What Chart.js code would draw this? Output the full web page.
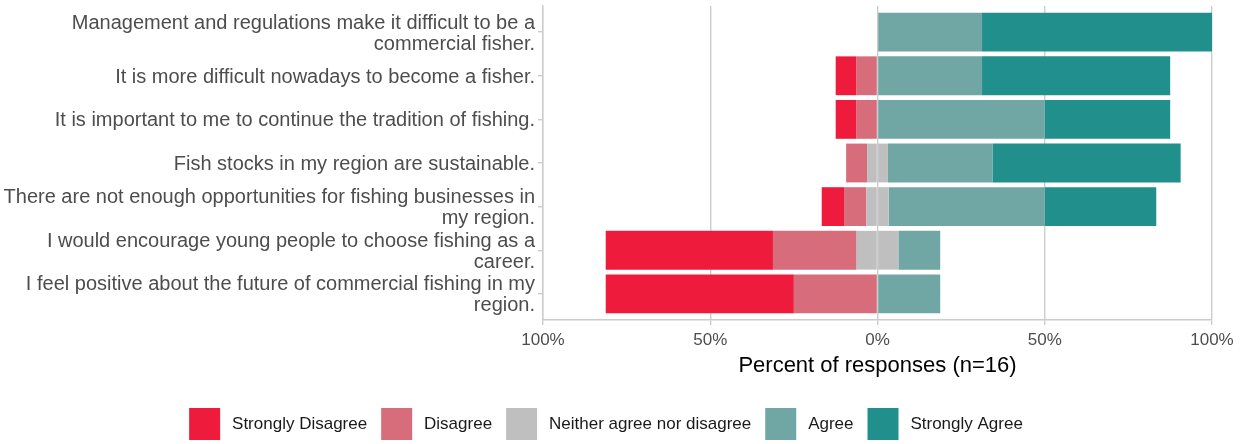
<!DOCTYPE html>
<html>
<head>
<meta charset="utf-8">
<script src="https://cdn.jsdelivr.net/npm/chart.js@4.4.1/dist/chart.umd.min.js"></script>
<style>
  html, body { margin: 0; padding: 0; background: #fff; overflow: hidden; }
  #wrap { width: 1248px; height: 450px; position: relative; }
</style>
</head>
<body>
<div id="wrap"><canvas id="c"></canvas></div>
<script>
// Survey statements (top to bottom), already split into display lines
const categories = [
  ["Management and regulations make it difficult to be a", "commercial fisher."],
  ["It is more difficult nowadays to become a fisher."],
  ["It is important to me to continue the tradition of fishing."],
  ["Fish stocks in my region are sustainable."],
  ["There are not enough opportunities for fishing businesses in", "my region."],
  ["I would encourage young people to choose fishing as a", "career."],
  ["I feel positive about the future of commercial fishing in my", "region."]
];

// Percent of responses per answer level
const stronglyDisagree = [0, 6.25, 6.25, 0, 6.67, 50, 56.25];
const disagree         = [0, 6.25, 6.25, 6.25, 6.67, 25, 25];
const neutral          = [0, 0, 0, 6.25, 6.67, 12.5, 0];
const agree            = [31.25, 31.25, 50, 31.25, 46.67, 12.5, 18.75];
const stronglyAgree    = [68.75, 56.25, 37.5, 56.25, 33.33, 0, 0];

const xTicks = [-100, -50, 0, 50, 100];

const COLORS = {
  sd: '#EE1B3C',
  d:  '#D76C7B',
  n:  '#BFBFBF',
  a:  '#70A7A4',
  sa: '#218F8B'
};

const pts = (arr, sign, factor) => arr.map((v, i) => ({ x: sign * v * factor, y: i + 1 }));

const datasets = [
  { key: 'nL', label: 'Neither agree nor disagree', data: pts(neutral, -1, 0.5), backgroundColor: COLORS.n },
  { key: 'nR', label: 'Neither agree nor disagree (right)', data: pts(neutral, 1, 0.5), backgroundColor: COLORS.n },
  { key: 'd',  label: 'Disagree', data: pts(disagree, -1, 1), backgroundColor: COLORS.d },
  { key: 'a',  label: 'Agree', data: pts(agree, 1, 1), backgroundColor: COLORS.a },
  { key: 'sd', label: 'Strongly Disagree', data: pts(stronglyDisagree, -1, 1), backgroundColor: COLORS.sd },
  { key: 'sa', label: 'Strongly Agree', data: pts(stronglyAgree, 1, 1), backgroundColor: COLORS.sa }
].map(ds => Object.assign(ds, {
  borderWidth: 0,
  barPercentage: 0.89,
  categoryPercentage: 1.0
}));
const order = { sd: 0, d: 1, nL: 2, a: 3, sa: 4 };

const GRID = '#cccccc';
const FONT = "'Liberation Sans', Arial, sans-serif";

new Chart(document.getElementById('c'), {
  type: 'bar',
  data: { datasets },
  options: {
    indexAxis: 'y',
    responsive: true,
    maintainAspectRatio: false,
    animation: false,
    layout: { padding: { top: 6, right: 36, left: 0, bottom: 0 } },
    plugins: {
      tooltip: { enabled: false },
      legend: {
        position: 'bottom',
        labels: {
          font: { family: FONT, size: 17 },
          color: '#1a1a1a',
          boxWidth: 31,
          boxHeight: 32,
          padding: 14,
          generateLabels: (chart) => Chart.defaults.plugins.legend.labels.generateLabels(chart)
            .map(l => Object.assign(l, { text: '\u2009' + l.text })),
          filter: (item, data) => data.datasets[item.datasetIndex].key !== 'nR',
          sort: (a, b, data) => order[data.datasets[a.datasetIndex].key] - order[data.datasets[b.datasetIndex].key]
        }
      }
    },
    scales: {
      x: {
        type: 'linear',
        stacked: true,
        min: -100,
        max: 100,
        afterBuildTicks: (axis) => { axis.ticks = xTicks.map(v => ({ value: v })); },
        afterFit: (axis) => { axis.height = 74; },
        ticks: {
          callback: (v) => Math.abs(v) + '%',
          font: { family: FONT, size: 17 },
          color: '#4d4d4d',
          padding: 5,
          maxRotation: 0
        },
        grid: { color: GRID, lineWidth: 1.4, tickLength: 5, tickColor: GRID },
        border: { display: true, color: GRID, width: 1.4 },
        title: {
          display: true,
          text: 'Percent of responses (n=16)',
          font: { family: FONT, size: 22 },
          color: '#000',
          padding: { top: 2.4, bottom: 14.8 }
        }
      },
      y: {
        type: 'linear',
        stacked: true,
        reverse: true,
        offset: false,
        min: 0.4,
        max: categories.length + 0.6,
        afterBuildTicks: (axis) => { axis.ticks = categories.map((c, i) => ({ value: i + 1 })); },
        afterFit: (axis) => { axis.width = 543; axis.paddingTop = 0; axis.paddingBottom = 0; },
        ticks: {
          autoSkip: false,
          callback: (v) => categories[Math.round(v) - 1] || '',
          font: { family: FONT, size: 20, lineHeight: 1.05 },
          color: '#4d4d4d',
          padding: 3,
          labelOffset: 1.5
        },
        grid: { offset: false, drawOnChartArea: false, tickLength: 5, tickColor: GRID, lineWidth: 1.4 },
        border: { display: true, color: GRID, width: 1.4 }
      }
    }
  }
});
</script>
</body>
</html>
